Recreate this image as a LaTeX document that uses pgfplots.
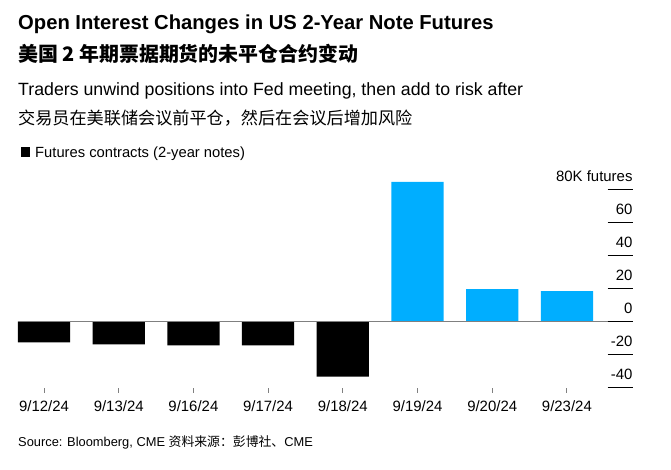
\documentclass[border=0pt]{standalone}
\usepackage{fontspec}
\setmainfont{Liberation Sans}
\newfontfamily\cjk{Noto Sans CJK SC}
\usepackage{pgfplots}
\pgfplotsset{compat=1.18}
\definecolor{bbblue}{RGB}{0,174,255}
\definecolor{zgray}{RGB}{128,128,128}
\begin{document}
\begin{tikzpicture}[x=1bp,y=1bp]
\path[use as bounding box] (0,0) rectangle (671,470);
% titles
\node[anchor=base west, inner sep=0, font=\bfseries\fontsize{20.3}{24}\selectfont] at (18,440) {Open Interest Changes in US 2-Year Note Futures};
\node[anchor=west, inner sep=0, font=\cjk\bfseries\fontsize{20}{24}\selectfont] at (18,416) {美国 2 年期票据期货的未平仓合约变动};
\node[anchor=base west, inner sep=0, font=\fontsize{17.8}{21}\selectfont] at (18,374.5) {Traders unwind positions into Fed meeting, then add to risk after};
\node[anchor=west, inner sep=0, font=\cjk\fontsize{17.2}{21}\selectfont] at (18,352) {交易员在美联储会议前平仓，然后在会议后增加风险};
% legend
\fill[black] (20.7,313.3) rectangle (29.7,323.3);
\node[anchor=base west, inner sep=0, font=\fontsize{14.8}{18}\selectfont] at (35,312.7) {Futures contracts (2-year notes)};
% source
\node[anchor=base west, inner sep=0, font=\fontsize{12.9}{15}\selectfont] at (18,23) {Source: Bloomberg, CME {\cjk 资料来源：彭博社、}CME};
\begin{axis}[
  at={(17.7bp,82.3bp)}, anchor=south west,
  scale only axis, width=615bp, height=211.2bp,
  xmin=-0.352, xmax=7.881, ymin=-40, ymax=88,
  axis x line*=bottom, axis y line*=right,
  x axis line style={draw=none}, y axis line style={draw=none},
  xtick={0,...,7},
  xticklabels={9/12/24,9/13/24,9/16/24,9/17/24,9/18/24,9/19/24,9/20/24,9/23/24},
  ytick={-40,-20,0,20,40,60,80},
  yticklabels={-40,-20,0,20,40,60,80K futures},
  tick align=outside, major tick length=5bp,
  xtick style={draw=zgray, line width=0.9pt},
  ytick style={draw=none},
  x tick label style={font=\fontsize{15}{18}\selectfont, yshift=-4bp},
  y tick label style={font=\fontsize{15}{18}\selectfont, anchor=south east, inner sep=0pt, xshift=-5bp, yshift=8bp},
  clip=false,
]
\addplot[ybar, bar width=0.7, bar shift=0pt, fill=black, draw=none] coordinates {(0,-12.5) (1,-13.7) (2,-14.3) (3,-14.3) (4,-33.3)};
\addplot[ybar, bar width=0.7, bar shift=0pt, fill=bbblue, draw=none] coordinates {(5,84.8) (6,19.8) (7,18.6)};
\draw[zgray, line width=1pt] (axis cs:-0.352,0) -- (axis cs:7.546,0);
\pgfplotsinvokeforeach{-40,-20,0,20,40,60,80}{
  \draw[black, line width=1pt] (axis cs:7.546,#1) -- (axis cs:7.881,#1);
}
\end{axis}
\end{tikzpicture}
\end{document}
